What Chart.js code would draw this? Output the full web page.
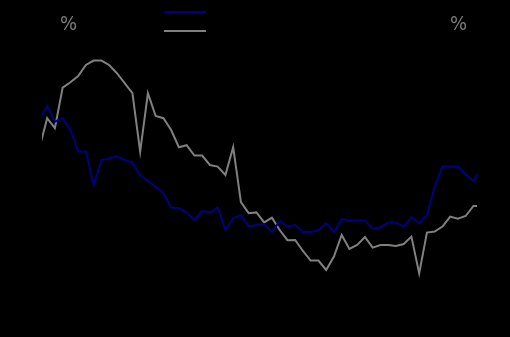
<!DOCTYPE html>
<html>
<head>
<meta charset="utf-8">
<script src="https://cdn.jsdelivr.net/npm/chart.js@4/dist/chart.umd.min.js"></script>
<style>
  html, body { margin: 0; padding: 0; background: #000; }
  #wrap { width: 510px; height: 337px; }
</style>
</head>
<body>
<div id="wrap"><canvas id="LineChart" width="510" height="337"></canvas></div>
<script>
// period index (ticks hidden in the original)
var periods = [0,1,2,3,4,5,6,7,8,9,10,11,12,13,14,15,16,17,18,19,20,21,22,23,24,25,26,27,28,29,
  30,31,32,33,34,35,36,37,38,39,40,41,42,43,44,45,46,47,48,49,50,51,52,53,54,55,56,57];

// navy series, %
var serieA = [7.02,7.7,6.92,7.09,6.5,5.42,5.42,3.75,5.0,5.09,5.2,5.0,4.87,4.25,3.95,3.65,3.34,2.62,2.59,2.37,
  2.0,2.45,2.37,2.62,1.5,2.09,2.25,1.67,1.75,1.78,1.4,1.95,1.67,1.75,1.4,1.4,1.5,1.84,1.4,2.05,
  1.97,1.97,1.97,1.55,1.64,1.87,1.87,1.67,2.14,1.84,2.25,3.67,4.67,4.67,4.67,4.29,3.95,4.6];

// gray series, %
var serieB = [5.6,7.09,6.59,8.62,8.89,9.2,9.75,9.97,9.97,9.75,9.34,8.84,8.34,5.42,8.34,7.2,7.09,6.5,5.64,5.74,
  5.22,5.22,4.75,4.67,4.25,5.64,2.89,2.34,2.38,1.88,2.12,1.5,0.99,1.0,0.45,-0.03,-0.03,-0.5,0.17,1.25,
  0.55,0.75,1.15,0.62,0.75,0.75,0.7,0.8,1.17,-0.67,1.37,1.42,1.67,2.17,2.07,2.2,2.7,2.7];

var unitLeft = '%';
var unitRight = '%';

function toPoints(vals) {
  return vals.map(function (v, i) { return { x: periods[i], y: v }; });
}

// units on top + stacked legend samples
var decor = {
  id: 'decor',
  afterDraw: function (chart) {
    var ctx = chart.ctx;
    ctx.save();
    ctx.fillStyle = '#7c7c7c';
    ctx.font = '20px "DejaVu Sans Condensed", "DejaVu Sans"';
    ctx.textAlign = 'center';
    ctx.textBaseline = 'alphabetic';
    ctx.fillText(unitLeft, 68.5, 30);
    ctx.fillText(unitRight, 458.5, 30);

    chart.data.datasets.forEach(function (ds, i) {
      var y = 12 + i * 19;
      ctx.strokeStyle = ds.borderColor;
      ctx.lineWidth = 2;
      ctx.beginPath();
      ctx.moveTo(164, y);
      ctx.lineTo(206, y);
      ctx.stroke();
    });
    ctx.restore();
  }
};

var ctx = document.getElementById('LineChart').getContext('2d');

var LineChart = new Chart(ctx, {
  type: 'line',
  data: {
    datasets: [{
      label: 'A',
      data: toPoints(serieA),
      borderColor: '#000080',
      borderWidth: 2,
      pointRadius: 0,
      tension: 0,
      fill: false
    }, {
      label: 'B',
      data: toPoints(serieB),
      borderColor: '#808080',
      borderWidth: 2,
      pointRadius: 0,
      tension: 0,
      fill: false
    }]
  },
  options: {
    responsive: false,
    animation: false,
    layout: { padding: { left: 42, right: 33, top: 40, bottom: 37 } },
    plugins: {
      legend: { display: false },
      tooltip: { enabled: false }
    },
    scales: {
      x: { type: 'linear', display: false, min: 0.335, max: 56.46 },
      y: { display: false, min: -2, max: 11 }
    }
  },
  plugins: [decor]
});
</script>
</body>
</html>
